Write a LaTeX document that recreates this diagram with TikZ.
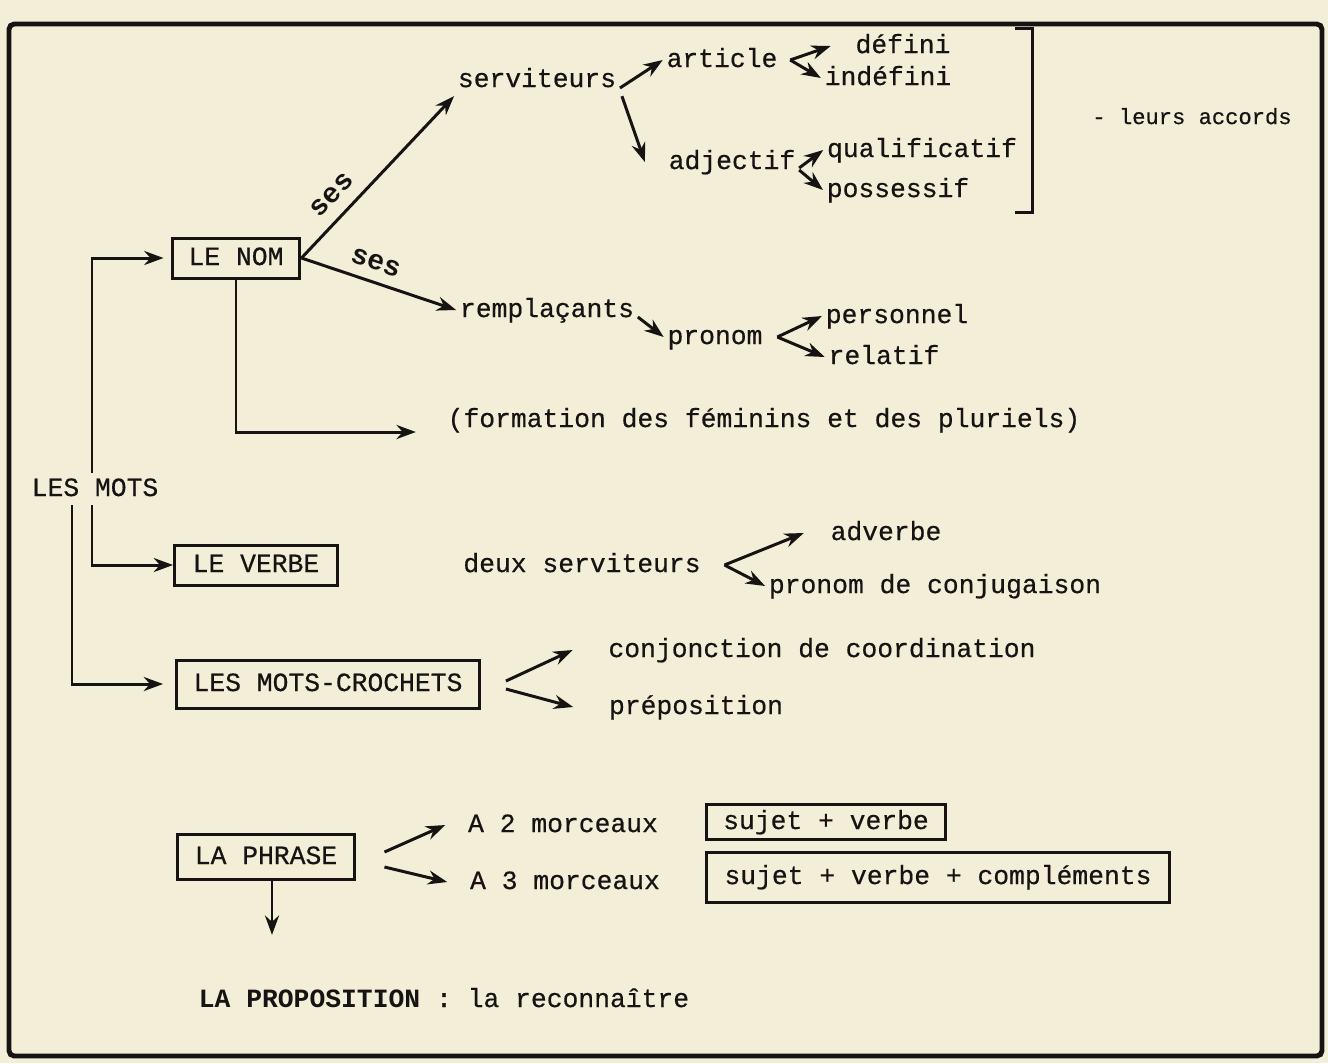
\documentclass[tikz,border=0pt]{standalone}
\usepackage{fontspec}
\setmainfont{Liberation Mono}[UprightFeatures={FakeBold=0.5}]
\usetikzlibrary{arrows.meta}
\definecolor{paper}{RGB}{243,238,216}
\definecolor{ink}{RGB}{22,20,18}

\begin{document}
\begin{tikzpicture}[x=0.02cm,y=-0.02cm,
    every node/.style={font=\fontsize{15}{18}\selectfont, text=ink, inner sep=2pt, text height=11pt, text depth=3pt},
    box/.style={draw=ink, line width=1.7pt, inner sep=0pt},
    arr/.style={draw=ink, line width=1.7pt, -{Stealth[length=11pt,width=8pt]}},
    lbl/.style={font=\fontsize{16}{18}\selectfont\bfseries}]

    \fill[paper] (0,0) rectangle (1328,1063);
    \draw[ink, line width=2.8pt, rounded corners=3pt] (9,24) rectangle (1322,1056);

    % le nom et ses serviteurs
    \node (serv) at (537,80) {serviteurs};
    \node (article) at (722,60) {article};
    \node (defini) at (903,46) {défini};
    \node (indefini) at (888,78) {indéfini};
    \node (adjectif) at (732,162) {adjectif};
    \node (qualif) at (922,150) {qualificatif};
    \node (possessif) at (898,190) {possessif};
    \node (accords) at (1192,117) [font=\fontsize{12.6}{15}\selectfont] {- leurs accords};
    \draw[ink, line width=1.7pt] (1015,28) -- (1032,28) -- (1032,212) -- (1015,212);

    \node (nom) at (236,258) [box, minimum width=2.56cm, minimum height=0.8cm] {LE NOM};
    \node (remp) at (547,310) {remplaçants};
    \node (pronom) at (715,337) {pronom};
    \node (perso) at (897,316) {personnel};
    \node (relatif) at (884,357) {relatif};
    \node (formation) at (764,420) {(formation des féminins et des pluriels)};

    \draw[arr] (nom.east) -- node[lbl, sloped, above=2pt, pos=0.3] (ses1) {ses} (serv.south west);
    \draw[arr] (nom.east) -- node[lbl, sloped, above=1pt, pos=0.44] (ses2) {ses} (remp.west);
    \draw[arr] ([yshift=-0.16cm]serv.east) -- (article.west);
    \draw[arr] ([xshift=0.04cm]serv.south east) -- ([xshift=-0.4cm]adjectif.west);
    \draw[arr] ([xshift=0.18cm]article.east) -- ([xshift=-0.42cm]defini.west);
    \draw[arr] ([xshift=0.18cm]article.east) -- (indefini.west);
    \draw[arr] ([yshift=-0.12cm]adjectif.east) -- (qualif.west);
    \draw[arr] ([yshift=-0.16cm]adjectif.east) -- (possessif.west);
    \draw[arr] ([yshift=-0.14cm]remp.east) -- (pronom.west);
    \draw[arr] ([xshift=0.22cm]pronom.east) -- (perso.west);
    \draw[arr] ([xshift=0.22cm]pronom.east) -- (relatif.west);
    \draw[arr] (nom.south) |- ([xshift=-0.56cm,yshift=-0.24cm]formation.west);

    % les mots
    \node (mots) at (95,489) {LES MOTS};
    \node (verbe) at (256,565) [box, minimum width=3.26cm, minimum height=0.8cm] {LE VERBE};
    \node (crochets) at (328,684) [box, minimum width=6.06cm, minimum height=0.96cm] {LES MOTS-CROCHETS};
    \draw[arr] ([xshift=-0.06cm]mots.north) |- ([xshift=-0.14cm]nom.west);
    \draw[arr] ([xshift=-0.06cm]mots.south) |- (verbe.west);
    \draw[arr] ([xshift=-0.46cm]mots.south) |- ([xshift=-0.24cm]crochets.west);

    \node (deux) at (582,565) {deux serviteurs};
    \node (adverbe) at (886,533) {adverbe};
    \node (conjug) at (935,586) {pronom de conjugaison};
    \draw[arr] ([xshift=0.4cm]deux.east) -- ([xshift=-0.46cm]adverbe.west);
    \draw[arr] ([xshift=0.4cm]deux.east) -- (conjug.west);

    \node (conj) at (822,650) {conjonction de coordination};
    \node (prep) at (696,707) {préposition};
    \draw[arr] ([xshift=0.5cm,yshift=0.06cm]crochets.east) -- ([xshift=-0.64cm]conj.west);
    \draw[arr] ([xshift=0.5cm,yshift=-0.1cm]crochets.east) -- ([xshift=-0.64cm]prep.west);

    % la phrase
    \node (phrase) at (266,857) [box, minimum width=3.56cm, minimum height=0.9cm] {LA PHRASE};
    \node (morc2) at (563,825) {A 2 morceaux};
    \node (morc3) at (565,882) {A 3 morceaux};
    \node (sujet1) at (826,822) [box, minimum width=4.78cm, minimum height=0.7cm] {sujet + verbe};
    \node (sujet2) at (938,877) [box, minimum width=9.26cm, minimum height=1cm] {sujet + verbe + compléments};
    \node (propo) at (444,1000) {\textbf{LA PROPOSITION} : la reconnaître};
    \draw[arr] ([xshift=0.56cm,yshift=0.1cm]phrase.east) -- ([xshift=-0.38cm]morc2.west);
    \draw[arr] ([xshift=0.56cm,yshift=-0.2cm]phrase.east) -- ([xshift=-0.38cm]morc3.west);
    \draw[arr, shorten >=0.98cm] ([xshift=0.12cm]phrase.south) -- ([xshift=0.12cm]phrase.south |- propo.north);

\end{tikzpicture}
\end{document}
